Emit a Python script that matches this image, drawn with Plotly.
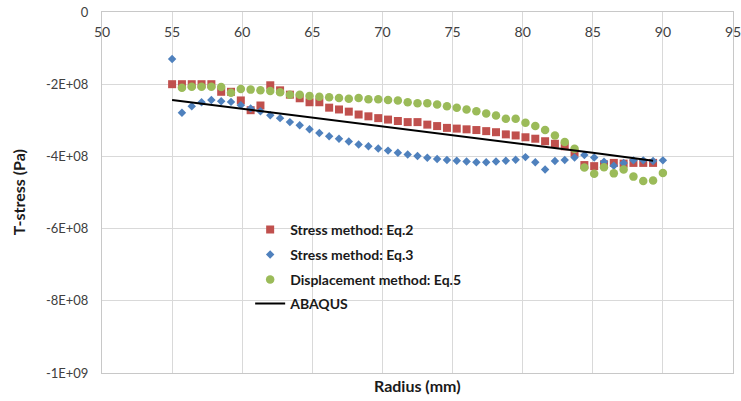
import plotly.graph_objects as go

# Radius positions (mm)
radius = [55.0, 55.7, 56.4, 57.1, 57.8, 58.5, 59.2, 59.9, 60.6, 61.3,
          62.0, 62.7, 63.4, 64.1, 64.8, 65.5, 66.2, 66.9, 67.6, 68.3,
          69.0, 69.7, 70.4, 71.1, 71.8, 72.5, 73.2, 73.9, 74.6, 75.3,
          76.0, 76.7, 77.4, 78.1, 78.8, 79.5, 80.2, 80.9, 81.6, 82.3,
          83.0, 83.7, 84.4, 85.1, 85.8, 86.5, 87.2, 87.9, 88.6, 89.3,
          90.0]

# Stress method Eq.2 (x1e8 Pa), 50 points
eq2 = [-2.00, -2.00, -2.00, -2.00, -2.00, -2.21, -2.21, -2.45, -2.72, -2.59,
       -2.03, -2.17, -2.29, -2.39, -2.50, -2.50, -2.65, -2.70, -2.76, -2.84,
       -2.89, -2.94, -2.98, -3.02, -3.05, -3.05, -3.12, -3.16, -3.21, -3.23,
       -3.25, -3.27, -3.30, -3.33, -3.39, -3.42, -3.47, -3.51, -3.58, -3.65,
       -3.72, -3.90, -4.24, -4.27, -4.22, -4.18, -4.20, -4.18, -4.18, -4.18]

# Stress method Eq.3 (x1e8 Pa), 51 points
eq3 = [-1.30, -2.79, -2.61, -2.50, -2.44, -2.47, -2.49, -2.58, -2.67, -2.75,
       -2.86, -2.94, -3.05, -3.14, -3.25, -3.35, -3.44, -3.51, -3.59, -3.67,
       -3.72, -3.78, -3.84, -3.90, -3.95, -3.99, -4.04, -4.07, -4.10, -4.12,
       -4.14, -4.16, -4.16, -4.14, -4.12, -4.09, -4.02, -4.16, -4.36, -4.13,
       -4.10, -4.03, -3.96, -4.03, -4.15, -4.26, -4.18, -4.11, -4.11, -4.13,
       -4.11]

# Displacement method Eq.5 (x1e8 Pa), starts at second radius
eq5 = [None, -2.10, -2.07, -2.07, -2.07, -2.08, -2.24, -2.13, -2.15, -2.17,
       -2.19, -2.22, -2.29, -2.29, -2.33, -2.35, -2.36, -2.38, -2.40, -2.38,
       -2.42, -2.42, -2.44, -2.45, -2.50, -2.53, -2.53, -2.56, -2.61, -2.65,
       -2.70, -2.75, -2.81, -2.87, -2.96, -2.96, -3.07, -3.16, -3.27, -3.42,
       -3.60, -3.79, -4.31, -4.48, -4.30, -4.47, -4.36, -4.56, -4.68, -4.67,
       -4.46]

# ABAQUS reference line
abaqus_r = [55.0, 60.0, 65.0, 70.0, 75.0, 80.0, 85.0, 89.3]
abaqus = [-2.44, -2.68, -2.92, -3.16, -3.40, -3.64, -3.90, -4.12]

y_ticks = [0, -2e8, -4e8, -6e8, -8e8, -1e9]
y_tick_labels = ["0", "-2E+08", "-4E+08", "-6E+08", "-8E+08", "-1E+09"]
x_ticks = [50, 55, 60, 65, 70, 75, 80, 85, 90, 95]

names = ["Stress method: Eq.2", "Stress method: Eq.3",
         "Displacement method: Eq.5", "ABAQUS"]

def scale(v):
    return [None if a is None else a * 1e8 for a in v]

FONT = "Lato, 'Open Sans', sans-serif"

fig = go.Figure()
fig.add_trace(go.Scatter(x=radius[:len(eq2)], y=scale(eq2), mode="markers",
                         name=names[0], legend="legend", showlegend=True,
                         marker=dict(symbol="square", size=8, color="#C0504D")))
fig.add_trace(go.Scatter(x=radius, y=scale(eq3), mode="markers",
                         name=names[1], legend="legend2", showlegend=True,
                         marker=dict(symbol="diamond", size=6.5, color="#4F81BD")))
fig.add_trace(go.Scatter(x=radius, y=scale(eq5), mode="markers",
                         name=names[2], legend="legend3", showlegend=True,
                         marker=dict(symbol="circle", size=8.5, color="#9BBB59")))
fig.add_trace(go.Scatter(x=abaqus_r, y=scale(abaqus), mode="lines",
                         name=names[3], legend="legend4", showlegend=True,
                         line=dict(color="black", width=2)))

T, B = 12.5, 373.0
def ypaper(p):
    return (B - p) / (B - T)

leg_common = dict(x=(250 - 101.7) / 631.6, xanchor="left", yanchor="middle",
                  bgcolor="rgba(0,0,0,0)", visible=True,
                  font=dict(family=FONT, size=14, color="#1a1a1a", weight="bold"),
                  itemwidth=30)
ypix = [230, 255, 280, 304]

fig.update_layout(
    width=741, height=401, showlegend=True,
    margin=dict(l=102, r=8, t=12, b=28, autoexpand=False),
    paper_bgcolor="white", plot_bgcolor="white",
    font=dict(family=FONT, size=13, color="#404040"),
    legend=dict(y=ypaper(ypix[0]), **leg_common),
    legend2=dict(y=ypaper(ypix[1]), **leg_common),
    legend3=dict(y=ypaper(ypix[2]), **leg_common),
    legend4=dict(y=ypaper(ypix[3]), **leg_common),
    xaxis=dict(range=[50, 95], tickvals=x_ticks, side="top",
               ticklabelposition="inside", ticklabeloverflow="allow",
               ticklabelstandoff=15, automargin=False,
               showgrid=True, gridcolor="#d9d9d9", gridwidth=1,
               showline=True, linecolor="#c8c8c8", linewidth=1, mirror=True,
               zeroline=False, ticks="",
               tickfont=dict(family=FONT, size=14, color="#404040")),
    yaxis=dict(range=[-1e9, 0], tickvals=y_ticks, ticktext=y_tick_labels,
               showgrid=True, gridcolor="#d9d9d9", gridwidth=1,
               showline=True, linecolor="#c8c8c8", linewidth=1, mirror=True,
               zeroline=False, ticks="", ticklabelstandoff=10, automargin=False,
               tickfont=dict(family=FONT, size=13, color="#404040")),
    annotations=[
        dict(text="<b>Radius (mm)</b>", xref="paper", yref="paper",
             x=0.5, y=(B - 385) / (B - T), xanchor="center", yanchor="middle",
             showarrow=False, font=dict(family=FONT, size=16, color="#1a1a1a")),
        dict(text="<b>T-stress (Pa)</b>", xref="paper", yref="paper",
             x=(18 - 101.7) / 631.6, y=(B - 192) / (B - T),
             xanchor="center", yanchor="middle", textangle=-90,
             showarrow=False, font=dict(family=FONT, size=16, color="#1a1a1a")),
    ],
)

fig.write_html("out.html",
               config={"displayModeBar": False},
               post_script="document.body.style.margin='0';document.body.style.padding='0';")
